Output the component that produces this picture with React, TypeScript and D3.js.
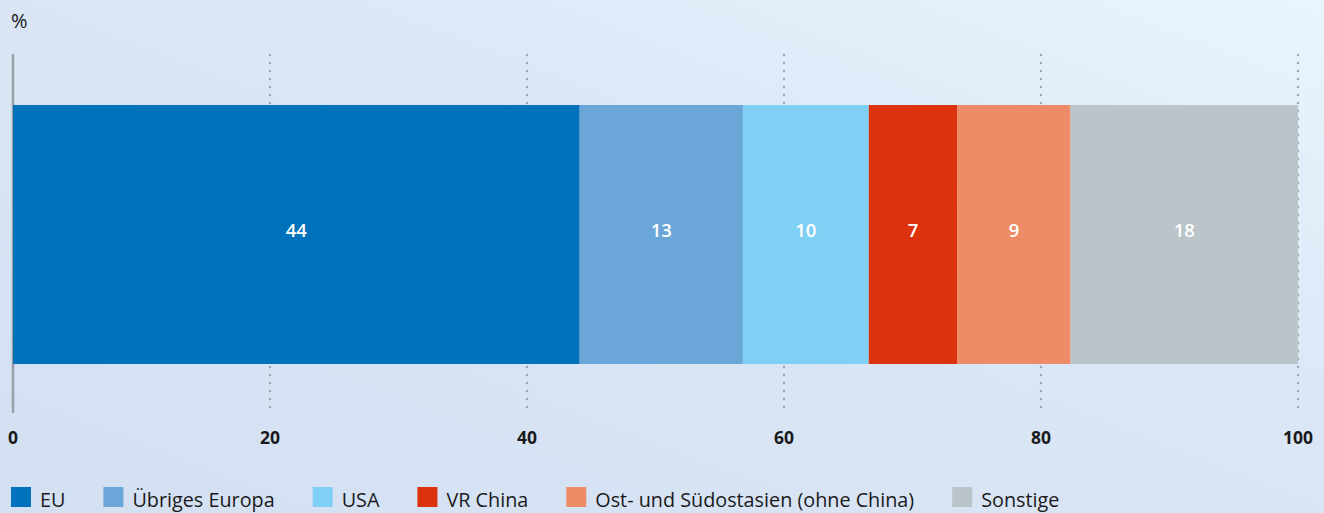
import React, { useEffect, useRef } from 'react';
import * as d3 from 'd3';

const categories = ['EU', 'Übriges Europa', 'USA', 'VR China', 'Ost- und Südostasien (ohne China)', 'Sonstige'];
const values = [44.1, 12.7, 9.8, 6.9, 8.8, 17.7];
const valueLabels = ['44', '13', '10', '7', '9', '18'];
const colors = ['#0072bc', '#6ba6d9', '#80cff4', '#dc330e', '#ee8c67', '#bac4c9'];
const ticks = [0, 20, 40, 60, 80, 100];

const W = 1324;
const H = 513;
const FONT = '"Open Sans", "Noto Sans", sans-serif';

const App = () => {
  const ref = useRef<SVGSVGElement>(null);

  useEffect(() => {
    const svg = d3.select(ref.current);
    svg.selectAll('*').remove();

    // background gradient
    const defs = svg.append('defs');
    const grad = defs.append('linearGradient')
      .attr('id', 'bg')
      .attr('x1', '0%').attr('y1', '100%')
      .attr('x2', '100%').attr('y2', '0%');
    grad.append('stop').attr('offset', '0%').attr('stop-color', '#d3e0f2');
    grad.append('stop').attr('offset', '60%').attr('stop-color', '#dbe7f6');
    grad.append('stop').attr('offset', '100%').attr('stop-color', '#e9f4fd');
    svg.append('rect').attr('width', W).attr('height', H).attr('fill', 'url(#bg)');

    const x = d3.scaleLinear().domain([0, 100]).range([13, 1298]);
    const barTop = 105;
    const barBottom = 364;

    // unit label
    svg.append('text')
      .attr('x', 11).attr('y', 28)
      .style('font-family', FONT).style('font-size', '20px')
      .attr('fill', '#1a1a1a')
      .text('%');

    // dotted grid lines
    svg.append('g')
      .selectAll('line')
      .data(ticks.filter(t => t > 0))
      .join('line')
        .attr('x1', d => x(d)).attr('x2', d => x(d))
        .attr('y1', 55).attr('y2', 413)
        .attr('stroke', '#9ba6b0')
        .attr('stroke-width', 2.4)
        .attr('stroke-linecap', 'round')
        .attr('stroke-dasharray', '0 8');

    // baseline at 0
    svg.append('line')
      .attr('x1', x(0)).attr('x2', x(0))
      .attr('y1', 54).attr('y2', 413)
      .attr('stroke', '#9aa1a6')
      .attr('stroke-width', 2.5);

    // stacked segments
    const stacked = d3.cumsum(values);
    const segs = values.map((v, i) => ({
      start: stacked[i] - v,
      end: stacked[i],
      color: colors[i],
      label: valueLabels[i],
    }));

    const seg = svg.append('g')
      .selectAll('g')
      .data(segs)
      .join('g');

    seg.append('rect')
      .attr('x', d => x(d.start))
      .attr('y', barTop)
      .attr('width', d => x(d.end) - x(d.start))
      .attr('height', barBottom - barTop)
      .attr('fill', d => d.color);

    seg.append('text')
      .attr('x', d => (x(d.start) + x(d.end)) / 2)
      .attr('y', 231)
      .attr('dy', '0.35em')
      .attr('text-anchor', 'middle')
      .style('font-family', FONT)
      .style('font-size', '18.5px')
      .style('font-weight', 600)
      .attr('fill', '#ffffff')
      .text(d => d.label);

    // tick labels
    svg.append('g')
      .selectAll('text')
      .data(ticks)
      .join('text')
        .attr('x', d => x(d))
        .attr('y', 443.5)
        .attr('text-anchor', 'middle')
        .style('font-family', FONT)
        .style('font-size', '17.5px')
        .style('font-weight', 700)
        .attr('fill', '#1a1a1a')
        .text(d => d);

    // legend
    const legend = svg.append('g');
    let lx = 11;
    categories.forEach((c, i) => {
      legend.append('rect')
        .attr('x', lx).attr('y', 487)
        .attr('width', 20).attr('height', 20)
        .attr('fill', colors[i]);
      const t = legend.append('text')
        .attr('x', lx + 29).attr('y', 507)
        .style('font-family', FONT)
        .style('font-size', '19.8px')
        .attr('fill', '#1a1a1a')
        .text(c);
      const len = (t.node() as SVGTextElement).getComputedTextLength();
      lx = lx + 29 + len + 38;
    });
  }, []);

  return (
    <svg
      ref={ref}
      width={W}
      height={H}
      style={{ position: 'absolute', left: 0, top: 0, display: 'block' }}
    />
  );
};

export default App;
